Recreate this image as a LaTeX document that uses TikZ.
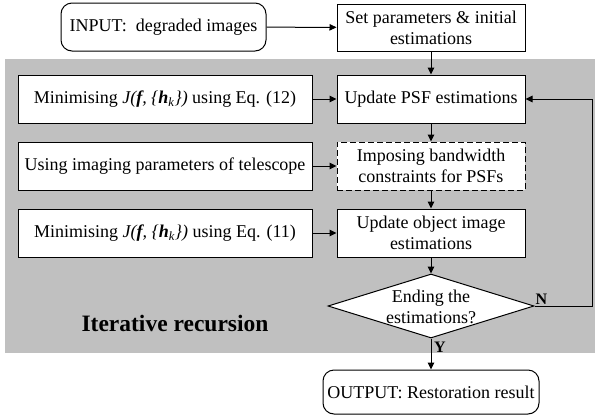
\documentclass[tikz,border=0pt]{standalone}
\usepackage{fontspec}
\setmainfont{Liberation Serif}
\usetikzlibrary{shapes.geometric,arrows.meta}
\definecolor{bg}{HTML}{C0C0C0}
\newcommand{\Jfh}{\textit{J(\textbf{f}, \{\textbf{h}$_{\mathit{k}}$\})}}
\begin{document}
\begin{tikzpicture}[x=1pt,y=-1pt,
  font=\fontsize{18}{21}\selectfont,
  box/.style={draw, line width=1pt, fill=white, minimum width=188pt, minimum height=48pt, align=center, inner sep=2pt},
  lbox/.style={box, minimum width=294pt},
  rbox/.style={box, rounded corners=11pt},
  lbl/.style={font=\fontsize{16}{18}\selectfont\bfseries, inner sep=1pt},
  arr/.style={-{Triangle[length=7pt,width=6.5pt]}, line width=1pt}]
\useasboundingbox (0,0) rectangle (595,416);
\fill[bg] (5,59) rectangle (595,353);
\node[rbox, minimum width=205pt] (in) at (163.5,27) {INPUT:\ \ degraded images};
\node[box, minimum height=47pt] (set) at (431,27.5) {Set parameters \& initial\\estimations};
\node[lbox] (m12) at (165,99) {Minimising \Jfh{} using Eq. (12)};
\node[lbox] (tel) at (165,166) {Using imaging parameters of telescope};
\node[lbox] (m11) at (165,233) {Minimising \Jfh{} using Eq. (11)};
\node[box] (psf) at (431,99) {Update PSF estimations};
\node[box, dash pattern=on 6pt off 3pt] (bw) at (431,166) {Imposing bandwidth\\constraints for PSFs};
\node[box] (obj) at (431,233) {Update object image\\estimations};
\node[diamond, draw, line width=1pt, fill=white, aspect=3.22, minimum width=206pt, minimum height=64pt, inner sep=0pt] (end) at (431,306) {};
\node[align=center, inner sep=0pt, font=\fontsize{18}{20.5}\selectfont] (endt) at (431,307) {Ending the\\estimations?};
\node[rbox, minimum width=216pt, minimum height=44pt] (out) at (431,392) {OUTPUT: Restoration result};
\node[font=\fontsize{23.5}{27}\selectfont\bfseries] (it) at (175,323) {Iterative recursion};
\coordinate (fb) at (592,306);
\draw[arr] (in) -- (set);
\draw[arr] (set) -- (psf);
\draw[arr] (psf) -- (bw);
\draw[arr] (bw) -- (obj);
\draw[arr] (obj) -- (end);
\draw[arr] (end.south) -- (out);
\node[lbl, anchor=west] (y) at (433,347) {Y};
\draw[arr] (m12) -- (psf);
\draw[arr] (tel) -- (bw);
\draw[arr] (m11) -- (obj);
\draw[arr] (end.east) -- (fb) |- (psf.east);
\node[lbl, anchor=south west] (n) at (end.east) {N};
\end{tikzpicture}
\end{document}
